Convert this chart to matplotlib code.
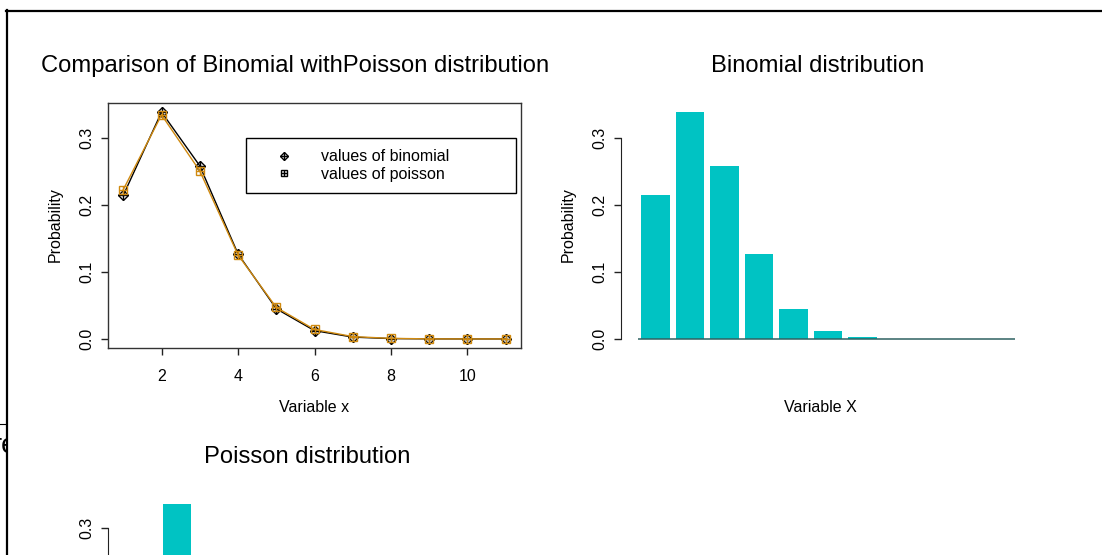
import matplotlib.pyplot as plt
from matplotlib.lines import Line2D
from matplotlib.transforms import Bbox, TransformedBbox
import numpy as np

plt.rcParams['font.family'] = ['Liberation Sans', 'DejaVu Sans']

# data
x_vals = list(range(1, 12))
binom_probs = [0.2146, 0.3389, 0.2586, 0.1270, 0.0451, 0.0124, 0.0027, 0.0005, 0.0001, 0.0000, 0.0000]
pois_probs = [0.2231, 0.3347, 0.2510, 0.1255, 0.0471, 0.0141, 0.0035, 0.0008, 0.0001, 0.0000, 0.0000]
x_ticks = [2, 4, 6, 8, 10]
y_ticks = [0.0, 0.1, 0.2, 0.3]
y_labels = ['0.0', '0.1', '0.2', '0.3']

orange = '#D08A10'
cyan = '#00C3C3'
W, H = 1102, 555

fig = plt.figure(figsize=(W / 100, H / 100), dpi=100)


def fx(px):
    return px / W


def fy(py):
    return 1 - py / H


def box(l, t, r, b):
    return [l / W, 1 - b / H, (r - l) / W, (b - t) / H]


def r_ylim(vals):
    top = max(vals)
    return -0.04 * top, top * 1.04


def style_y(ax):
    ax.set_yticks(y_ticks, labels=y_labels)
    ax.tick_params(axis='y', direction='out', length=5, width=1, labelsize=11.5,
                   pad=5, labelrotation=90, color='#222222')
    for lab in ax.get_yticklabels():
        lab.set_va('center')


# ---- panel 1: comparison
ax1 = fig.add_axes(box(108, 103, 521, 348))
ax1.plot(x_vals, binom_probs, color='black', lw=1, marker='D', ms=5.1, mfc='none', mew=1)
ax1.plot(x_vals, binom_probs, ls='none', color='black', marker='+', ms=7.2, mew=1)
ax1.plot(x_vals, pois_probs, color=orange, lw=1, marker='s', ms=6, mfc='none', mew=1)
ax1.plot(x_vals, pois_probs, ls='none', color=orange, marker='+', ms=6, mew=1)
ax1.set_xlim(0.6, 11.4)
ax1.set_ylim(*r_ylim(binom_probs))
ax1.set_xticks(x_ticks)
ax1.tick_params(axis='x', direction='out', length=5, width=1, labelsize=11.5, pad=10, color='#222222')
style_y(ax1)
for sp in ax1.spines.values():
    sp.set_color('#333333')
    sp.set_linewidth(1)

h_binom = (Line2D([], [], ls='none', color='black', marker='D', ms=4.2, mfc='none', mew=1),
           Line2D([], [], ls='none', color='black', marker='+', ms=6, mew=1))
h_pois = (Line2D([], [], ls='none', color='black', marker='s', ms=5, mfc='none', mew=1),
          Line2D([], [], ls='none', color='black', marker='+', ms=5, mew=1))
leg = ax1.legend([h_binom, h_pois], ['values of binomial', 'values of poisson'],
                 loc='upper left', bbox_to_anchor=(0.334, 0.641, 0.654, 0.216), mode='expand',
                 borderaxespad=0, fancybox=False, framealpha=1, edgecolor='black',
                 fontsize=11.5, borderpad=0.7, labelspacing=0.15,
                 handlelength=3.4, handletextpad=0.6)
leg.get_frame().set_linewidth(1)

# ---- bar panels
bar_left = 0.2 + 1.2 * np.arange(len(x_vals))


def bar_panel(ax, vals):
    ax.bar(bar_left, vals, width=1, align='edge', color=cyan, edgecolor='none')
    ax.hlines(0, bar_left[0] - 0.1, bar_left[-1] + 1, color='#2F6262', lw=1.1, zorder=3)
    ax.set_xlim(-0.496, 13.45)
    ax.set_ylim(*r_ylim(vals))
    ax.set_xticks([])
    for s in ['top', 'right', 'bottom']:
        ax.spines[s].set_visible(False)
    ax.spines['left'].set_bounds(0, 0.3)
    ax.spines['left'].set_color('#222222')
    style_y(ax)


ax2 = fig.add_axes(box(621, 103, 1022, 348))
bar_panel(ax2, binom_probs)

# bottom panel runs past the lower edge of the screenshot
ax3 = fig.add_axes(box(108, 495.5, 509, 737.4))
bar_panel(ax3, pois_probs)
y0, y1 = ax3.get_ylim()
for val, lab in zip(y_ticks, ax3.get_yticklabels()):
    py = 495.5 + (y1 - val) / (y1 - y0) * (737.4 - 495.5)
    if py + 12 > H:
        lab.set_visible(False)

# ---- titles and axis labels
fig.text(fx(295), fy(72), 'Comparison of Binomial withPoisson distribution',
         ha='center', va='baseline', fontsize=17.1)
fig.text(fx(818), fy(72), 'Binomial distribution', ha='center', va='baseline', fontsize=17.1)
fig.text(fx(307), fy(463), 'Poisson distribution', ha='center', va='baseline', fontsize=17.1)
fig.text(fx(314.5), fy(408), 'Variable x', ha='center', va='center', fontsize=11.5)
fig.text(fx(820), fy(408), 'Variable X', ha='center', va='center', fontsize=11.5)
fig.text(fx(55), fy(225), 'Probability', ha='center', va='center', rotation=90, fontsize=11.5)
fig.text(fx(568), fy(225), 'Probability', ha='center', va='center', rotation=90, fontsize=11.5)

# ---- window frame bits around the screenshot
fig.add_artist(Line2D([fx(6), 1], [fy(11), fy(11)], color='black', lw=1.6))
fig.add_artist(Line2D([fx(7), fx(7)], [fy(10), 0], color='black', lw=1.6))
fig.add_artist(Line2D([0, fx(6)], [fy(424), fy(424)], color='black', lw=0.8))
t = fig.text(fx(16.5), fy(453), 're', ha='right', va='baseline', fontsize=19.5)
t.set_clip_box(TransformedBbox(Bbox([[0, 0], [fx(6), 1]]), fig.transFigure))
t.set_clip_on(True)

fig.savefig('out.png', dpi=100)
